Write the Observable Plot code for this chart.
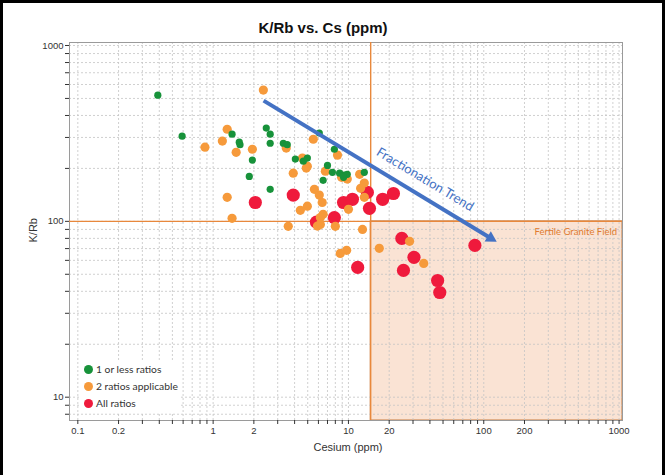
<!DOCTYPE html>
<html>
<head>
<meta charset="utf-8">
<script src="https://cdn.jsdelivr.net/npm/d3@7"></script>
<script src="https://cdn.jsdelivr.net/npm/@observablehq/plot@0.6"></script>
<style>
  html, body { margin: 0; padding: 0; background: #fff; }
  #wrap { position: relative; width: 665px; height: 475px; overflow: hidden; }
  #border { position: absolute; left: 0; top: 0; width: 665px; height: 480px; box-sizing: border-box;
            border: 3px solid #000; pointer-events: none; }
  #legend { position: absolute; left: 80px; top: 360px; width: 100px; height: 53px; background: #fff;
            font-family: Lato, "Open Sans", sans-serif; font-size: 10.3px; color: #333; }
  .item { position: absolute; left: 4px; height: 12px; line-height: 12px; white-space: nowrap; }
  .sw { display: inline-block; width: 9px; height: 9px; border-radius: 50%; vertical-align: -1px; margin-right: 3px; }
</style>
</head>
<body>
<div id="wrap">
  <div id="chart"></div>
  <div id="legend"></div>
  <div id="border"></div>
</div>
<script>
// ---- data ----
const seriesNames = ["1 or less ratios", "2 ratios applicable", "All ratios"];
const seriesColors = ["#17923a", "#f69a3b", "#ef1a3c"];

const greenCs  = [0.39, 0.59, 1.38, 1.56, 1.58, 1.95, 1.85, 2.47, 2.64, 2.64, 2.64, 3.30, 3.53, 4.05, 4.64, 4.97, 6.09, 7.87, 7.0, 7.61, 6.5, 8.6, 9.3, 9.8, 9.2, 13.1];
const greenKRb = [522, 305, 313, 282, 273, 223, 180, 339, 313, 278, 152, 278, 273, 226, 220, 229, 318, 257, 208, 190, 171, 188, 183, 185, 178, 190];

const orangeCs  = [2.35, 1.27, 1.17, 0.87, 1.48, 1.95, 1.27, 1.38, 3.47, 4.57, 4.97, 4.88, 3.91, 4.97, 4.41, 3.59, 5.5, 5.6, 5.9, 8.3, 6.75, 8.9, 9.8, 12.1, 6.09, 6.4, 6.5, 6.2, 10, 12.3, 13.1, 13.1, 6.2, 8.0, 12.7, 28.3, 16.9, 9.7, 8.7, 36];
const orangeKRb = [558, 334, 286, 264, 247, 257, 137, 104, 261, 229, 206, 201, 188, 122, 115.5, 93.7, 293, 152, 94, 238, 193, 178, 174, 185, 141, 128, 109.6, 105, 117, 154, 165, 137, 96, 93.7, 90, 77, 70.2, 68.4, 65.7, 57.6];

const redCs  = [2.05, 3.91, 5.8, 9.2, 10.7, 13.8, 17.9, 21.5, 14.3, 7.87, 24.8, 30.5, 25.5, 11.7, 86, 45.6, 47.3];
const redKRb = [128, 141, 99, 128, 133.5, 146, 133.5, 144, 118.6, 105, 80, 62.4, 52.6, 54.7, 73, 46.1, 39.4];

// reference lines & field
const csThreshold = 14.6;
const krbThreshold = 100;
const fieldCs = [14.6, 1060];
const fieldKRb = [7.37, 100];

// fractionation trend (start, end of shaft)
const trendCs = [2.36, 112];
const trendKRb = [486, 80.4];
const trendLabelCs = 36.9, trendLabelKRb = 173;

// axes
const xDomain = [0.0868, 1060];
const yDomain = [7.37, 1040];
const xTickLabels = [0.1, 0.2, 1, 2, 3, 4, 5, 10, 20, 30, 100, 200, 1000];
const yTickLabels = [10, 100, 1000];

// ---- build ----
function decadeTicks(lo, hi) {
  const out = [];
  for (let e = lo; e < hi; e++) for (let m = 1; m <= 9; m++) out.push(+(m + "e" + e));
  out.push(+("1e" + hi));
  return out;
}
const xAll = decadeTicks(-1, 3);
const yAllExt = [8, 9].concat(decadeTicks(1, 3));

const pts = [];
greenCs.forEach((c, i) => pts.push({cs: c, krb: greenKRb[i], s: 0}));
orangeCs.forEach((c, i) => pts.push({cs: c, krb: orangeKRb[i], s: 1}));
redCs.forEach((c, i) => pts.push({cs: c, krb: redKRb[i], s: 2}));
const radius = [3.6, 4.6, 6.6];

const trend = [{x1: trendCs[0], y1: trendKRb[0], x2: trendCs[1], y2: trendKRb[1]}];
const blue = "#4472c4";
const orangeLine = "#e8883c";
const fontAxis = "'Liberation Sans', Arial, sans-serif";

const plot = Plot.plot({
  width: 665,
  height: 475,
  marginLeft: 69,
  marginRight: 43,
  marginTop: 42,
  marginBottom: 55,
  style: {fontFamily: fontAxis, fontSize: "9.5px", color: "#333", background: "#fff"},
  x: {type: "log", domain: xDomain, label: null},
  y: {type: "log", domain: yDomain, label: null},
  r: {type: "identity"},
  marks: [
    Plot.rect([{x1: fieldCs[0], x2: fieldCs[1], y1: fieldKRb[0], y2: fieldKRb[1]}],
      {x1: "x1", x2: "x2", y1: "y1", y2: "y2", fill: "#fae3d4", stroke: "#c97a3e", strokeWidth: 1}),
    Plot.gridX(xAll, {stroke: "#c4c4c4", strokeOpacity: 1, strokeDasharray: "2,2", strokeWidth: 0.8}),
    Plot.gridY(yAllExt, {stroke: "#c4c4c4", strokeOpacity: 1, strokeDasharray: "2,2", strokeWidth: 0.8}),
    Plot.frame({stroke: "#9a9a9a"}),
    Plot.axisX({ticks: xAll, tickSize: 4, tickPadding: 3, label: null,
      tickFormat: d => xTickLabels.includes(d) ? String(d) : ""}),
    Plot.axisY({ticks: yAllExt, tickSize: 4, tickPadding: 2, label: null,
      tickFormat: d => yTickLabels.includes(d) ? String(d) : ""}),
    Plot.ruleX([csThreshold], {stroke: orangeLine, strokeWidth: 1.4}),
    Plot.ruleY([krbThreshold], {stroke: orangeLine, strokeWidth: 1.4}),
    Plot.text(["Fertile Granite Field"], {x: () => 1000, y: () => krbThreshold, textAnchor: "end", dx: -2, dy: 11,
      fill: "#e07b2e", fontSize: 9.5, fontFamily: "Lato, sans-serif"}),
    Plot.dot(pts, {x: "cs", y: "krb", r: d => radius[d.s], fill: d => seriesColors[d.s], stroke: "none"}),
    Plot.link(trend, {x1: "x1", y1: "y1", x2: "x2", y2: "y2", stroke: blue, strokeWidth: 4}),
    Plot.dot([trend[0]], {x: "x2", y: "y2", symbol: "triangle2", r: 5.8, fill: blue, stroke: "none",
      rotate: 121, dx: 0.3, dy: 0.2}),
    Plot.text(["Fractionation Trend"], {x: () => trendLabelCs, y: () => trendLabelKRb, rotate: 31,
      fill: blue, fontSize: 13, fontFamily: "Lato, sans-serif"}),
    Plot.text(["K/Rb vs. Cs (ppm)"], {frameAnchor: "top", lineAnchor: "middle", dx: -23, dy: -14, fontWeight: "bold",
      fontSize: 15, fill: "#111", fontFamily: fontAxis}),
    Plot.text(["Cesium (ppm)"], {frameAnchor: "bottom", lineAnchor: "middle", dx: 2, dy: 27, fontSize: 11, fill: "#333", fontFamily: fontAxis}),
    Plot.text(["K/Rb"], {frameAnchor: "left", dx: -36, dy: 11, rotate: -90, fontSize: 11, fill: "#333", fontFamily: fontAxis})
  ]
});
document.getElementById("chart").appendChild(plot);

// legend
const legend = document.getElementById("legend");
seriesNames.forEach((name, i) => {
  const it = document.createElement("div");
  it.className = "item";
  it.style.top = (3 + i * 17) + "px";
  it.innerHTML = `<span class="sw" style="background:${seriesColors[i]}"></span>${name}`;
  legend.appendChild(it);
});
</script>
</body>
</html>
